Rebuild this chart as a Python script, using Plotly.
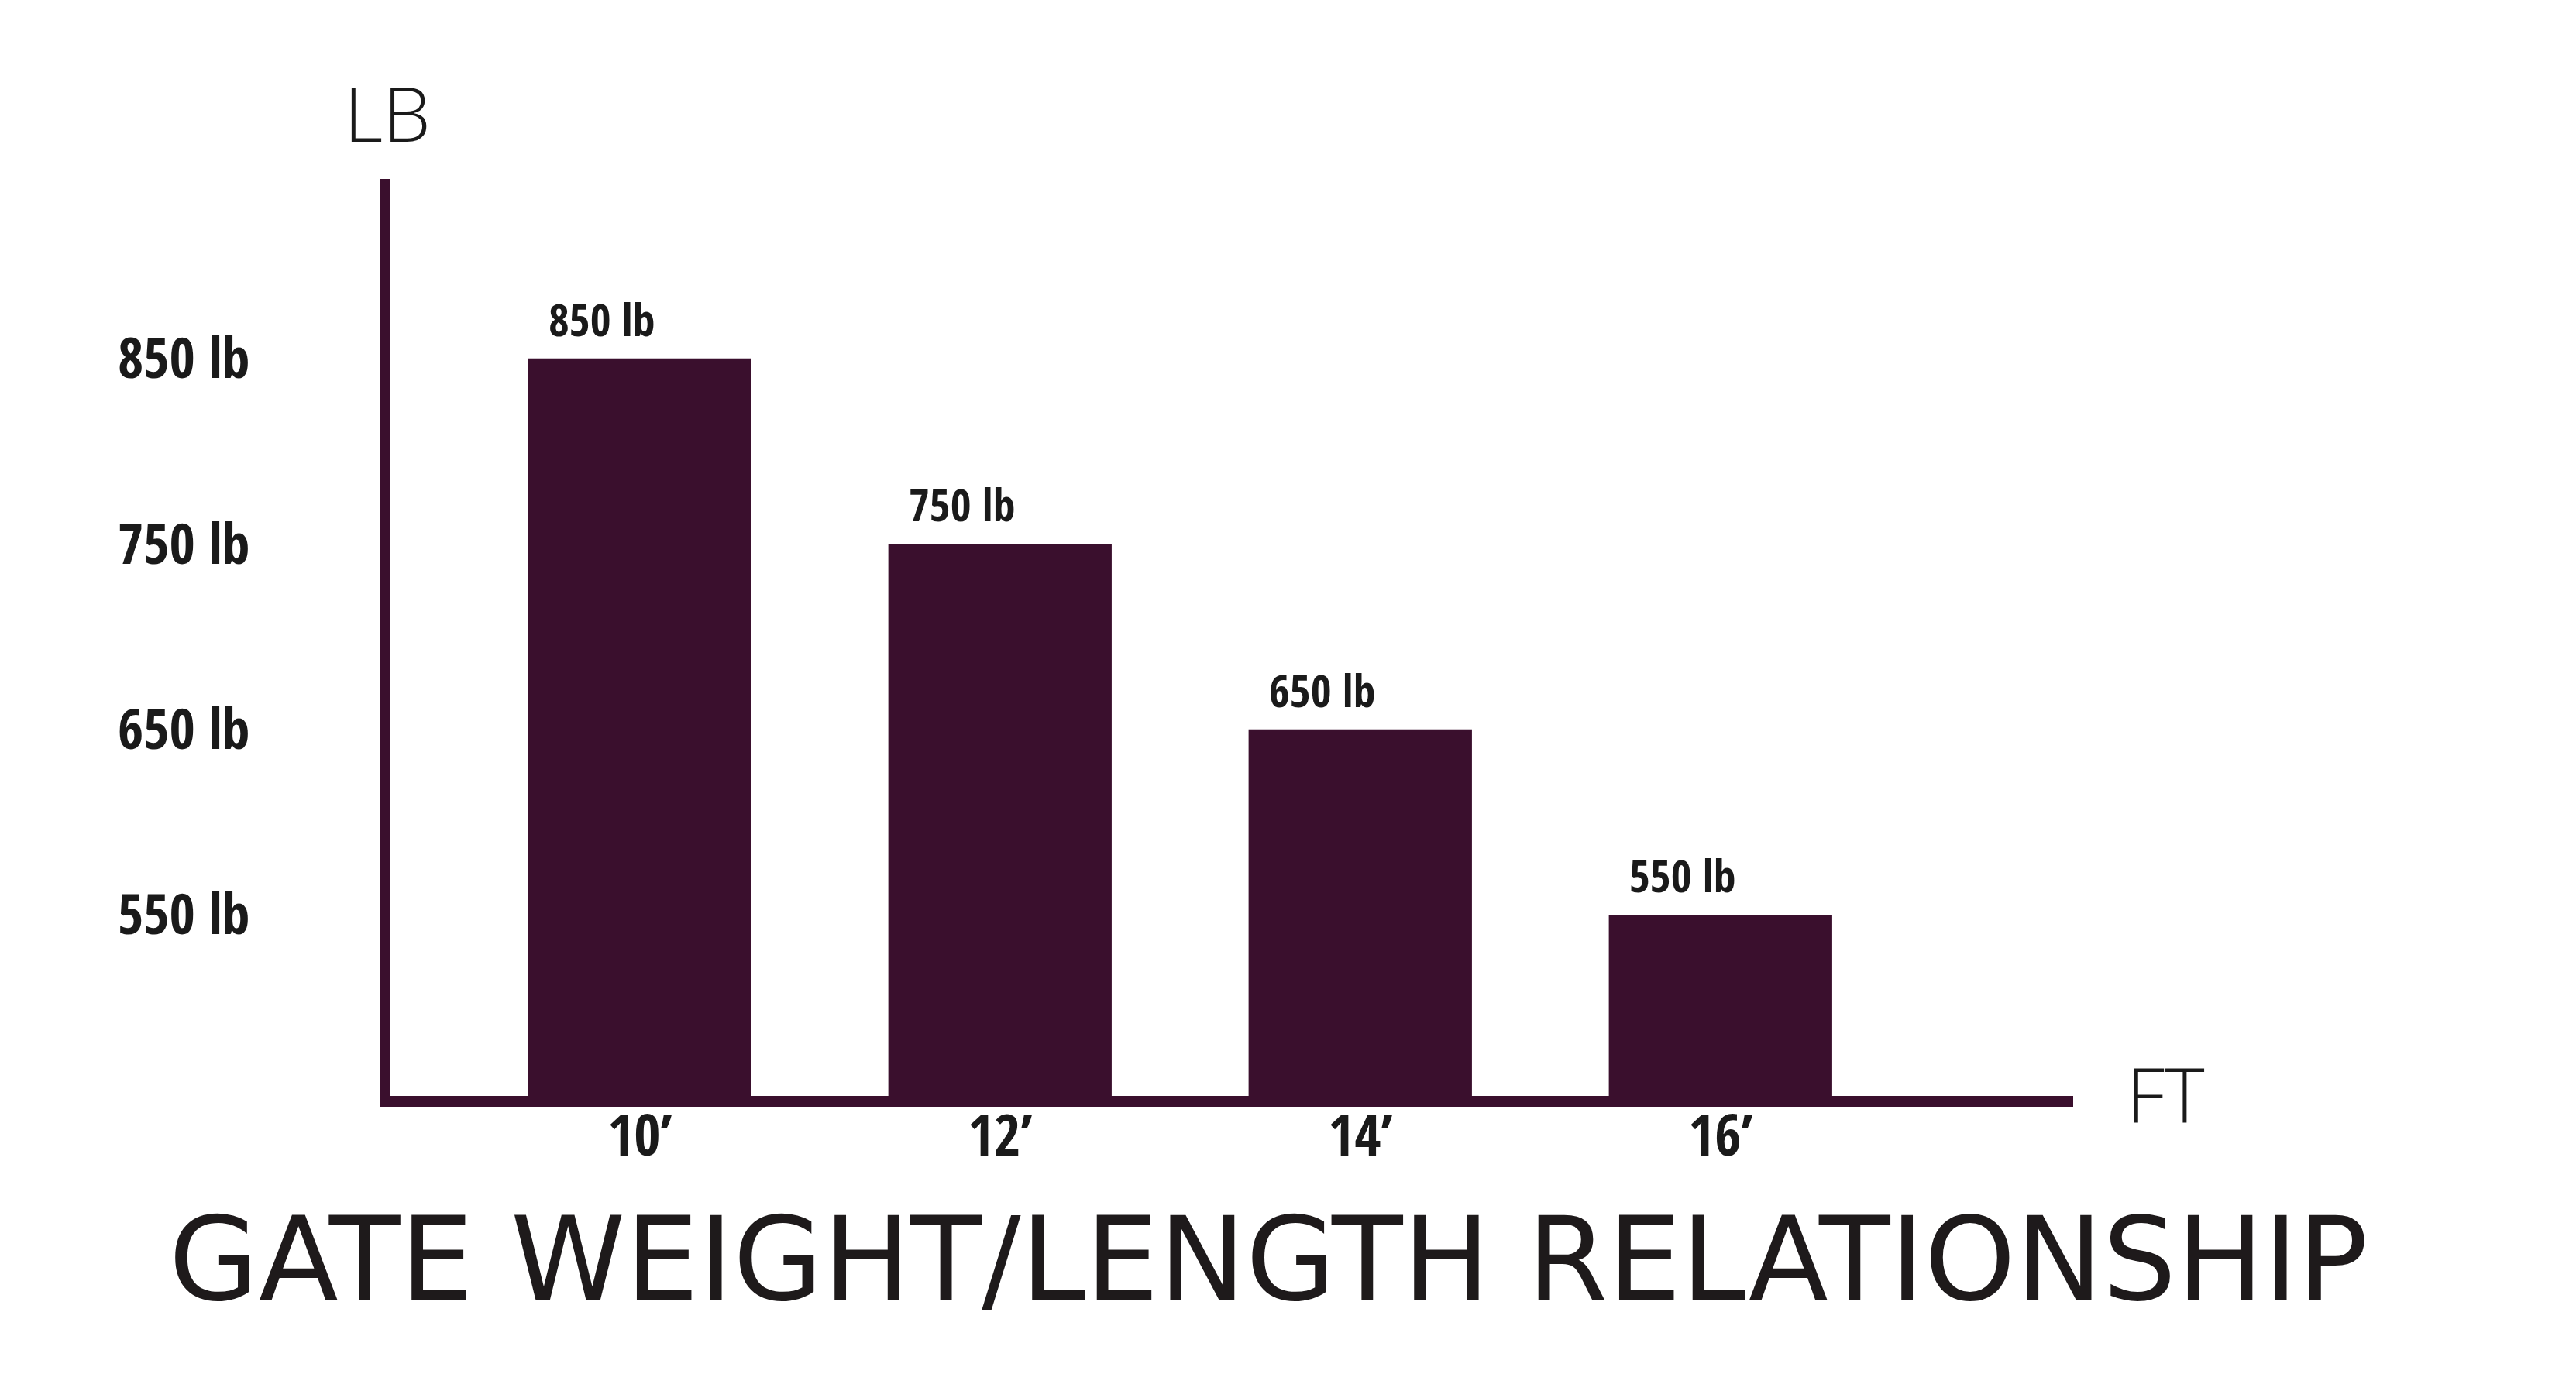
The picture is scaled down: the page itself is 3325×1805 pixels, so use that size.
import plotly.graph_objects as go

categories = ["10’", "12’", "14’", "16’"]
weights = [850, 750, 650, 550]
bar_labels = ["850 lb", "750 lb", "650 lb", "550 lb"]
ytick_vals = [550, 650, 750, 850]
ytick_text = ["550 lb", "650 lb", "750 lb", "850 lb"]

BAR = "#3a0f2d"
TXT = "#1a1a1a"
COND = "Open Sans Condensed, Roboto Condensed, sans-serif"
THIN = "Open Sans, Lato, sans-serif"

fig = go.Figure()
fig.add_trace(go.Bar(
    x=categories, y=weights, marker=dict(color=BAR, line=dict(width=0)),
    width=0.62, hoverinfo="skip", showlegend=False,
))

annotations = []
for i, (v, t) in enumerate(zip(weights, bar_labels)):
    annotations.append(dict(
        x=i - 0.31, y=v, xref="x", yref="y", text=t, showarrow=False,
        xanchor="left", yanchor="bottom", xshift=24, yshift=10,
        font=dict(family=COND, size=58, color=TXT, weight=600),
    ))
annotations.append(dict(
    x=-0.002, y=1.0726, xref="paper", yref="paper", text="LB", showarrow=False,
    xanchor="center", yanchor="middle",
    font=dict(family=THIN, size=98, color=TXT, weight=300),
))
annotations.append(dict(
    x=1.0548, y=0.0034, xref="paper", yref="paper", text="FT", showarrow=False,
    xanchor="center", yanchor="middle",
    font=dict(family=THIN, size=98, color=TXT, weight=300),
))

fig.update_layout(
    width=3325, height=1805,
    margin=dict(l=496, r=657, t=223, b=398),
    paper_bgcolor="white", plot_bgcolor="white",
    annotations=annotations,
    title=dict(
        text="GATE WEIGHT/LENGTH RELATIONSHIP",
        x=0.49, xref="container", xanchor="center",
        y=1 - 1617 / 1805, yref="container", yanchor="middle",
        font=dict(family="DejaVu Sans, sans-serif", size=150, color="#1e1a1b"),
    ),
    xaxis=dict(
        type="category", range=[-0.692, 3.979],
        showline=True, linecolor=BAR, linewidth=14,
        showgrid=False, zeroline=False, ticks="",
        tickfont=dict(family=COND, size=74, color=TXT, weight=600),
        ticklabelstandoff=-26,
    ),
    yaxis=dict(
        range=[452.4, 946.8], showline=True, linecolor=BAR, linewidth=14,
        showgrid=False, zeroline=False, ticks="",
        tickvals=ytick_vals, ticktext=ytick_text,
        tickfont=dict(family=COND, size=72, color=TXT, weight=600),
        ticklabelstandoff=153,
    ),
)

fig.write_html("out.html")
